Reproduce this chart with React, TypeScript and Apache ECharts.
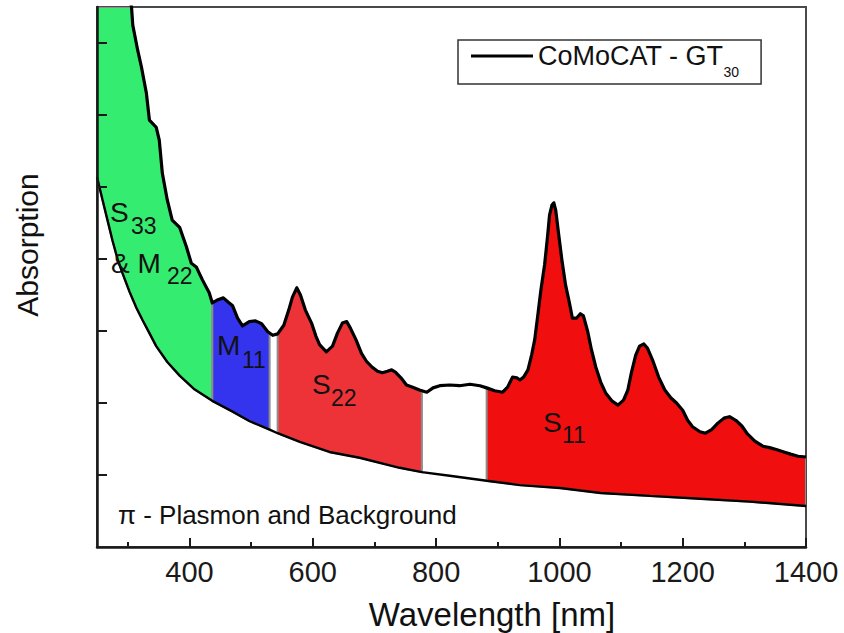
import React, { useEffect, useRef } from "react";
import * as echarts from "echarts";

// ---- data ----
const wavelength = [
  250, 280, 306, 308, 316, 322, 330, 335, 346, 351, 356, 364, 372, 384, 395, 403, 411, 421, 432,
  437, 445, 455, 463, 470, 478, 486, 497, 507, 517, 527, 535, 543, 553, 561, 567, 574, 580, 588,
  598, 605, 611, 622, 632, 640, 648, 655, 661, 670, 679, 687, 696, 705, 713, 721, 728, 734, 743,
  752, 762, 773, 785, 795, 806, 822, 838, 855, 871, 882, 895, 908, 916, 924, 931, 936, 942, 949,
  955, 960, 965, 970, 976, 981, 984, 988, 991, 994, 999, 1004, 1010, 1017, 1021, 1028, 1034, 1039,
  1046, 1052, 1059, 1067, 1075, 1085, 1095, 1104, 1111, 1117, 1124, 1130, 1137, 1143, 1151, 1161,
  1171, 1181, 1190, 1200, 1208, 1216, 1228, 1237, 1247, 1257, 1267, 1276, 1286, 1296, 1305, 1317,
  1330, 1341, 1353, 1364, 1375, 1387, 1400,
];
const absorbance = [
  10.0, 8.6, 7.5, 7.25, 6.9, 6.67, 6.31, 5.93, 5.83, 5.65, 5.19, 4.82, 4.54, 4.44, 4.17, 3.94, 3.89, 3.71, 3.53,
  3.39, 3.43, 3.46, 3.4, 3.35, 3.18, 3.07, 3.13, 3.14, 3.1, 2.99, 2.94, 2.96, 3.08, 3.29, 3.47, 3.6, 3.5, 3.29,
  3.11, 2.93, 2.81, 2.71, 2.79, 2.97, 3.11, 3.13, 3.04, 2.88, 2.69, 2.58, 2.5, 2.44, 2.42, 2.44, 2.46, 2.43, 2.35,
  2.25, 2.22, 2.18, 2.15, 2.21, 2.24, 2.25, 2.24, 2.26, 2.24, 2.21, 2.17, 2.15, 2.22, 2.36, 2.35, 2.32, 2.36, 2.46,
  2.67, 2.88, 3.22, 3.57, 3.92, 4.33, 4.61, 4.75, 4.78, 4.68, 4.33, 3.99, 3.64, 3.36, 3.18, 3.18, 3.24, 3.21,
  2.99, 2.74, 2.5, 2.29, 2.14, 2.03, 1.97, 2.04, 2.18, 2.43, 2.67, 2.79, 2.82, 2.76, 2.6, 2.36,
  2.18, 2.07, 2.0, 1.9, 1.76, 1.67, 1.6, 1.58, 1.63, 1.72, 1.79, 1.81, 1.76, 1.68, 1.57, 1.47,
  1.4, 1.38, 1.35, 1.32, 1.29, 1.26, 1.25,
];
const bgWavelength = [
  250, 259, 267, 275, 283, 291, 303, 314, 324, 335, 346, 364, 384, 408, 437, 470, 497, 530, 543,
  579, 627, 676, 741, 777, 822, 882, 936, 1001, 1067, 1147, 1228, 1309, 1400,
];
const bgAbsorbance = [
  5.14, 4.82, 4.54, 4.26, 4.01, 3.81, 3.54, 3.32, 3.15, 2.97, 2.79, 2.57, 2.38, 2.19, 2.03, 1.88, 1.75, 1.63, 1.58,
  1.46, 1.32, 1.24, 1.1, 1.04, 0.99, 0.92, 0.86, 0.82, 0.75, 0.71, 0.67, 0.63, 0.57,
];
const bandStart = [250, 437, 543, 882];
const bandEnd = [437, 530, 777, 1400];
const xTicks = [400, 600, 800, 1000, 1200, 1400];
const xMinorTicks = [300, 500, 700, 900, 1100, 1300];
const yTicks = [1, 2, 3, 4, 5, 6, 7];
const seriesName = "CoMoCAT - GT30";

// ---- styles ----
const bandColors = ["#34ec6f", "#3434ee", "#ee3338", "#f00e0e"];
const FONT = '"Liberation Sans", Arial, Helvetica, sans-serif';
const X_MIN = 250;
const X_MAX = 1400;
const Y_MAX = 7.5;

function interp(xs: number[], ys: number[], x: number): number {
  for (let i = 0; i < xs.length - 1; i++) {
    if (x >= xs[i] && x <= xs[i + 1]) {
      const t = (x - xs[i]) / (xs[i + 1] - xs[i]);
      return ys[i] + t * (ys[i + 1] - ys[i]);
    }
  }
  return x < xs[0] ? ys[0] : ys[ys.length - 1];
}

function txt(text: string, x: number, y: number, size: number, extra: any = {}) {
  return {
    type: "text",
    x,
    y,
    silent: true,
    z: 20,
    ...extra,
    style: {
      text,
      fill: "#111",
      fontSize: size,
      fontFamily: FONT,
      align: extra.align || "left",
      verticalAlign: "middle",
      textAlign: extra.align || "left",
      textVerticalAlign: "middle",
    },
  };
}

export default function App() {
  const ref = useRef<HTMLDivElement>(null);

  useEffect(() => {
    if (!ref.current) return;
    const chart = echarts.init(ref.current, null, { renderer: "svg" });

    const renderItem = (params: any, api: any) => {
      const b = params.dataIndex;
      const s = bandStart[b];
      const e = bandEnd[b];
      const top: number[][] = [[s, interp(wavelength, absorbance, s)]];
      wavelength.forEach((w, i) => {
        if (w > s && w < e) top.push([w, absorbance[i]]);
      });
      top.push([e, interp(wavelength, absorbance, e)]);
      const bottom: number[][] = [[e, interp(bgWavelength, bgAbsorbance, e)]];
      for (let i = bgWavelength.length - 1; i >= 0; i--) {
        if (bgWavelength[i] > s && bgWavelength[i] < e) bottom.push([bgWavelength[i], bgAbsorbance[i]]);
      }
      bottom.push([s, interp(bgWavelength, bgAbsorbance, s)]);
      const pts = top.concat(bottom).map(([x, y]) => api.coord([x, Math.min(y, Y_MAX)]));
      return {
        type: "polygon",
        shape: { points: pts },
        style: { fill: bandColors[b], stroke: "#8c8c8c", lineWidth: 2 },
      };
    };

    const axisColor = "#1a1a1a";

    chart.setOption({
      animation: false,
      backgroundColor: "#ffffff",
      grid: {
        left: 97,
        top: 7,
        width: 709,
        height: 540,
        show: true,
        borderColor: "#4a4a4a",
        borderWidth: 2,
        backgroundColor: "transparent",
      },
      legend: {
        data: [seriesName],
        left: 458,
        top: 40,
        padding: [1, 22, 5, 13],
        borderColor: "#333",
        borderWidth: 1.5,
        icon: "rect",
        itemWidth: 62,
        itemHeight: 3,
        itemStyle: { color: "#000" },
        selectedMode: false,
        formatter: () => "CoMoCAT - GT{sub|30}",
        textStyle: {
          fontSize: 27,
          color: "#111",
          fontFamily: FONT,
          lineHeight: 30,
          rich: {
            sub: { fontSize: 14, color: "#111", fontFamily: FONT, lineHeight: 30, padding: [24, 0, -8, 0] },
          },
        },
      },
      xAxis: [
        {
          type: "value",
          min: X_MIN,
          max: X_MAX,
          z: 10,
          axisLine: { show: true, onZero: false, lineStyle: { color: axisColor, width: 2.5 } },
          axisTick: { show: true, inside: true, length: 9, customValues: xTicks, lineStyle: { color: axisColor, width: 2 } },
          axisLabel: {
            show: true,
            customValues: xTicks,
            fontSize: 29,
            color: axisColor,
            fontFamily: FONT,
            margin: 10,
            formatter: (v: number) => String(v),
          },
          splitLine: { show: false },
        },
        {
          type: "value",
          min: X_MIN,
          max: X_MAX,
          position: "bottom",
          z: 10,
          axisLine: { show: false },
          axisTick: { show: true, inside: true, length: 5, customValues: xMinorTicks, lineStyle: { color: axisColor, width: 2 } },
          axisLabel: { show: false },
          splitLine: { show: false },
        },
      ],
      yAxis: {
        type: "value",
        min: 0,
        max: Y_MAX,
        z: 10,
        axisLine: { show: true, onZero: false, lineStyle: { color: axisColor, width: 2.5 } },
        axisTick: { show: true, inside: true, length: 10, customValues: yTicks, lineStyle: { color: axisColor, width: 2 } },
        axisLabel: { show: false },
        splitLine: { show: false },
      },
      series: [
        {
          type: "custom",
          name: "bands",
          renderItem,
          data: bandStart.map((s) => [s, 0]),
          clip: true,
          silent: true,
          z: 1,
        },
        {
          type: "line",
          name: seriesName,
          data: wavelength.map((w, i) => [w, absorbance[i]]),
          symbol: "none",
          clip: true,
          lineStyle: { color: "#000", width: 3.2, join: "round" },
          itemStyle: { color: "#000" },
          z: 3,
        },
        {
          type: "line",
          name: "background",
          data: bgWavelength.map((w, i) => [w, bgAbsorbance[i]]),
          symbol: "none",
          clip: true,
          lineStyle: { color: "#000", width: 2.4 },
          itemStyle: { color: "#000" },
          z: 3,
        },
      ],
      graphic: [
        txt("S", 110, 212, 28),
        txt("33", 131, 226, 23),
        txt("& M", 111, 263, 28),
        txt("22", 167, 276, 23),
        txt("M", 217, 345, 28),
        txt("11", 242, 360, 23),
        txt("S", 312, 384, 28),
        txt("22", 331, 398, 23),
        txt("S", 543, 422, 28),
        txt("11", 562, 435, 23),
        txt("π - Plasmon and Background", 118, 515, 26),
        txt("Wavelength [nm]", 492, 614, 33, { align: "center" }),
        txt("Absorption", 27, 245, 30, { align: "center", rotation: Math.PI / 2 }),
      ],
    });

    return () => chart.dispose();
  }, []);

  return (
    <div
      ref={ref}
      style={{ position: "fixed", left: 0, top: 0, width: 844, height: 633, background: "#fff" }}
    />
  );
}
